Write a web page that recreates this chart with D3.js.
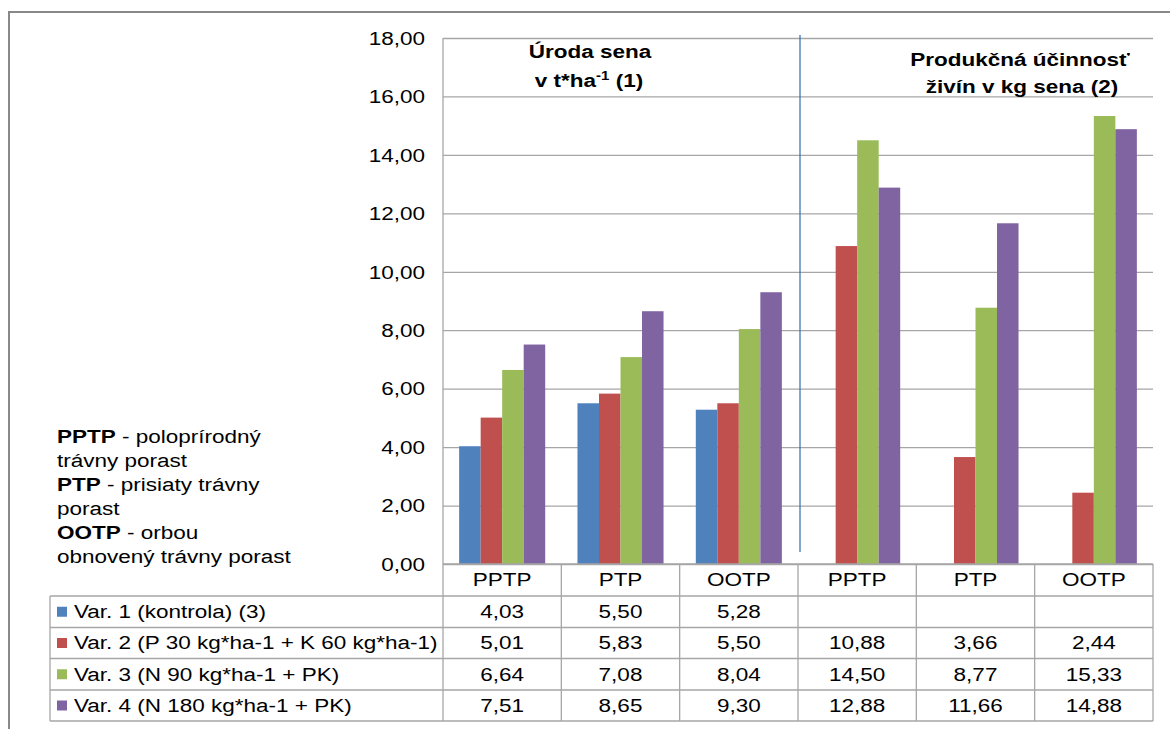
<!DOCTYPE html>
<html>
<head>
<meta charset="utf-8">
<script src="https://cdn.jsdelivr.net/npm/d3@7"></script>
<style>
  body { margin: 0; background: #fff; }
  svg { font-family: "Liberation Sans", Arial, sans-serif; }
</style>
</head>
<body>
<svg width="1170" height="729"></svg>
<script>
const categories = ['PPTP', 'PTP', 'OOTP', 'PPTP', 'PTP', 'OOTP'];
const seriesNames = [
  'Var. 1 (kontrola) (3)',
  'Var. 2 (P 30 kg*ha-1 + K 60 kg*ha-1)',
  'Var. 3 (N 90 kg*ha-1 + PK)',
  'Var. 4 (N 180 kg*ha-1 + PK)'
];
const var1 = [4.03, 5.50, 5.28, null, null, null];
const var2 = [5.01, 5.83, 5.50, 10.88, 3.66, 2.44];
const var3 = [6.64, 7.08, 8.04, 14.50, 8.77, 15.33];
const var4 = [7.51, 8.65, 9.30, 12.88, 11.66, 14.88];
const yTicks = [0, 2, 4, 6, 8, 10, 12, 14, 16, 18];
const colors = ['#4F81BD', '#C0504D', '#9BBB59', '#8064A2'];

const series = [var1, var2, var3, var4];
const fmt = v => v == null ? '' : v.toFixed(2).replace('.', ',');

const svg = d3.select('svg');
const width = +svg.attr('width');
const height = +svg.attr('height');

const plot = { left: 443, right: 1153, top: 38, bottom: 564 };
const gridColor = '#A6A6A6';
const fs = 18;
const sx = 1.25; // the original is stretched horizontally

// put a text at x,y with the horizontal stretch
const place = (sel, x, y) => sel.attr('transform', `translate(${x},${y}) scale(${sx},1)`);

// outer chart frame
svg.append('rect')
  .attr('x', 9).attr('y', 12)
  .attr('width', width).attr('height', height)
  .attr('fill', 'none')
  .attr('stroke', '#888')
  .attr('stroke-width', 2);

const xScale = d3.scaleBand()
  .domain(d3.range(categories.length))
  .range([plot.left, plot.right]);

const xInner = d3.scaleBand()
  .domain(d3.range(series.length))
  .range([0, xScale.bandwidth()])
  .paddingInner(0)
  .paddingOuter(0.75);

const yScale = d3.scaleLinear()
  .domain([0, 18])
  .range([plot.bottom, plot.top]);

// gridlines + y labels
const yAxis = d3.axisLeft(yScale)
  .tickValues(yTicks)
  .tickSize(-(plot.right - plot.left))
  .tickPadding(18)
  .tickFormat(fmt);

const yAxisGroup = svg.append('g')
  .attr('transform', `translate(${plot.left},0)`)
  .call(yAxis);
yAxisGroup.selectAll('.domain').remove();
yAxisGroup.selectAll('line').attr('stroke', gridColor).attr('stroke-width', 1.3);
yAxisGroup.selectAll('text')
  .attr('font-size', fs)
  .attr('fill', '#000')
  .attr('dy', '0.35em')
  .each(function() {
    const x = +this.getAttribute('x');
    d3.select(this).attr('x', 0).attr('transform', `translate(${x},0) scale(${sx},1)`);
  });

// left axis line
svg.append('line')
  .attr('x1', plot.left).attr('x2', plot.left)
  .attr('y1', plot.top).attr('y2', plot.bottom)
  .attr('stroke', gridColor).attr('stroke-width', 1.3);

// bars
const bars = [];
series.forEach((s, si) => s.forEach((v, ci) => {
  if (v != null) bars.push({ si, ci, v });
}));

svg.append('g').selectAll('rect')
  .data(bars)
  .join('rect')
  .attr('x', d => xScale(d.ci) + xInner(d.si))
  .attr('width', xInner.bandwidth())
  .attr('y', d => yScale(d.v))
  .attr('height', d => yScale(0) - yScale(d.v))
  .attr('fill', d => colors[d.si]);

// separator line between the two blocks
svg.append('line')
  .attr('x1', 800).attr('x2', 800)
  .attr('y1', 35).attr('y2', 552)
  .attr('stroke', '#2E6DB4').attr('stroke-width', 1.2);

// data table
const rowH = [32, 31.5, 31, 31.5, 31];
const tableLeft = 50;
const rowY = [plot.bottom];
rowH.forEach(h => rowY.push(rowY[rowY.length - 1] + h));

const table = svg.append('g');
const colEdges = [plot.left].concat(categories.map((c, i) => xScale(i) + xScale.bandwidth()));

rowY.forEach((y, i) => {
  table.append('line')
    .attr('x1', i === 0 ? plot.left : tableLeft).attr('x2', plot.right)
    .attr('y1', y).attr('y2', y)
    .attr('stroke', gridColor).attr('stroke-width', 1.3);
});
colEdges.forEach(x => {
  table.append('line')
    .attr('x1', x).attr('x2', x)
    .attr('y1', rowY[0]).attr('y2', rowY[rowY.length - 1])
    .attr('stroke', gridColor).attr('stroke-width', 1.3);
});
table.append('line')
  .attr('x1', tableLeft).attr('x2', tableLeft)
  .attr('y1', rowY[1]).attr('y2', rowY[rowY.length - 1])
  .attr('stroke', gridColor).attr('stroke-width', 1.3);

// header labels
table.selectAll('text.cat')
  .data(categories)
  .join('text')
  .attr('class', 'cat')
  .attr('transform', (d, i) =>
    `translate(${xScale(i) + xScale.bandwidth() / 2},${(rowY[0] + rowY[1]) / 2}) scale(${sx},1)`)
  .attr('dy', '0.36em')
  .attr('text-anchor', 'middle')
  .attr('font-size', fs)
  .text(d => d);

// series rows
series.forEach((s, si) => {
  const yMid = (rowY[si + 1] + rowY[si + 2]) / 2;
  table.append('rect')
    .attr('x', 57).attr('y', yMid - 5)
    .attr('width', 10).attr('height', 10)
    .attr('fill', colors[si]);
  place(table.append('text'), 74, yMid)
    .attr('dy', '0.36em')
    .attr('font-size', fs)
    .text(seriesNames[si]);
  table.selectAll(null)
    .data(s)
    .join('text')
    .attr('transform', (d, i) =>
      `translate(${xScale(i) + xScale.bandwidth() / 2},${yMid}) scale(${sx},1)`)
    .attr('dy', '0.36em')
    .attr('text-anchor', 'middle')
    .attr('font-size', fs)
    .text(d => fmt(d));
});

// block titles
place(svg.append('text'), 590, 58)
  .attr('text-anchor', 'middle')
  .attr('font-size', fs)
  .attr('font-weight', 'bold')
  .text('Úroda sena');
const t1b = place(svg.append('text'), 589, 87)
  .attr('text-anchor', 'middle')
  .attr('font-size', fs)
  .attr('font-weight', 'bold');
t1b.append('tspan').text('v t*ha');
t1b.append('tspan').attr('font-size', 12).attr('dy', -7).text('-1');
t1b.append('tspan').attr('dy', 7).text(' (1)');

place(svg.append('text'), 1020, 66)
  .attr('text-anchor', 'middle')
  .attr('font-size', fs)
  .attr('font-weight', 'bold')
  .text('Produkčná účinnosť');
place(svg.append('text'), 1022, 93)
  .attr('text-anchor', 'middle')
  .attr('font-size', fs)
  .attr('font-weight', 'bold')
  .text('živín v kg sena (2)');

// abbreviations note
const notes = [
  ['PPTP', ' - poloprírodný'],
  ['', 'trávny porast'],
  ['PTP', ' - prisiaty trávny'],
  ['', 'porast'],
  ['OOTP', ' - orbou'],
  ['', 'obnovený trávny porast']
];
const noteG = svg.append('g');
notes.forEach((n, i) => {
  const t = place(noteG.append('text'), 57, 443 + i * 24)
    .attr('font-size', fs);
  if (n[0]) t.append('tspan').attr('font-weight', 'bold').text(n[0]);
  t.append('tspan').text(n[1]);
});
</script>
</body>
</html>
